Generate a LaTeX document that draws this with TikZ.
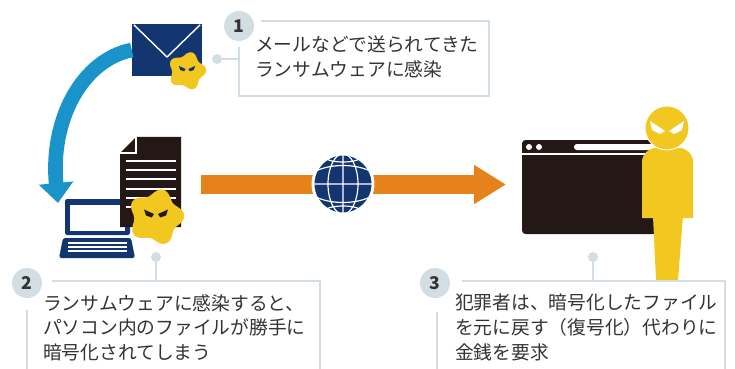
\documentclass[tikz,border=0pt]{standalone}
\usepackage{fontspec}
\newfontfamily\jp{Noto Sans CJK JP}
\usetikzlibrary{arrows.meta,calc}

\definecolor{navy}{HTML}{143670}
\definecolor{skyblue}{HTML}{1A93CA}
\definecolor{flow}{HTML}{E6821A}
\definecolor{ink}{HTML}{231815}
\definecolor{yel}{HTML}{F2C71F}
\definecolor{framec}{HTML}{D3DDE4}
\definecolor{txt}{HTML}{333333}

% yellow virus blob, #1 = eye colour
\tikzset{
  pics/blob/.style={code={
    \fill[yel] plot[smooth cycle, domain=0:355, samples=72]
      (\x:{1+0.13*cos(5*\x+15)});
    \fill[#1] (-0.48,-0.3) -- (-0.08,-0.12) -- (-0.17,0.02) -- (-0.4,-0.06) -- cycle;
    \fill[#1] (0.48,-0.3) -- (0.08,-0.12) -- (0.17,0.02) -- (0.4,-0.06) -- cycle;
  }}
}

\begin{document}
\begin{tikzpicture}[
  x=0.03cm, y=-0.03cm,
  num/.style={circle, fill=framec, minimum size=0.9cm, inner sep=0,
              font=\jp\bfseries\fontsize{15}{15}\selectfont, text=txt},
  note/.style={anchor=north west, align=left, inner sep=0, text=txt,
               font=\jp\fontsize{16}{21.2}\selectfont},
  pin/.style={circle, fill=framec, minimum size=0.3cm, inner sep=0},
  frameline/.style={draw=framec, line width=2.5pt}
]
  \useasboundingbox (0,0) rectangle (735,369);

  % mail
  \node[fill=navy, minimum width=2.1cm, minimum height=1.56cm, inner sep=0] (mail) at (167,50) {};
  \draw[white, line width=1.2pt] ($(mail.north west)+(2,1)$) -- (167,57) -- ($(mail.north east)+(-2,1)$);
  \pic[scale=17] (blobA) at (187,71) {blob=navy};

  % infection path
  \coordinate (hit) at (58,203);
  \draw[skyblue, line width=12.5pt, -{Triangle[length=0.6cm, width=1cm]}]
    (mail.west) .. controls (82,60) and (50,120) .. (hit);

  % laptop
  \fill[navy, rounded corners=2pt] (65,199) rectangle (130,235);
  \fill[white] (70,205) rectangle (125,231);
  \fill[navy, rounded corners=2pt] (63,238) -- (131,238) -- (135,258) -- (59,258) -- cycle;
  \foreach \yy in {243,247,251}
    \draw[white, line width=0.9pt] (68,\yy) -- (127,\yy);
  \node[inner sep=0, minimum width=2.1cm, minimum height=1.8cm] (pc) at (97,228) {};

  % encrypted document
  \fill[ink] (136,137) -- (181,137) -- (181,227) -- (120,227) -- (120,153) -- cycle;
  \draw[white, line width=1pt] (120,153) -- (136,153) -- (136,137);
  \foreach \yy in {161,170,179,189,198,207}
    \draw[white, line width=1.2pt] (126,\yy) -- (176,\yy);
  \pic[scale=25] (blobB) at (156,217) {blob=ink};

  % transfer over the internet
  \coordinate (src) at (201,184.5);
  \coordinate (dst) at (506,184.5);
  \draw[flow, line width=16pt, -{Triangle[length=0.96cm, width=1.11cm]}] (src) -- (dst);
  \node[circle, fill=navy, draw=white, line width=2.5pt, minimum size=1.8cm, inner sep=0] (net) at (343,184) {};
  \begin{scope}
    \clip (343,184) circle (30);
    \draw[white, line width=1pt] (343,154) -- (343,214)
      (343,184) ellipse (15 and 30)
      (313,184) -- (373,184)
      (318,170) .. controls (333,164) and (353,164) .. (368,170)
      (318,198) .. controls (333,204) and (353,204) .. (368,198)
      (343,157) ellipse (18 and 5)
      (343,211) ellipse (18 and 5);
  \end{scope}

  % attacker's screen
  \fill[ink, rounded corners=3pt] (522,140) rectangle (660,234);
  \draw[white, line width=1pt] (522,154) -- (660,154);
  \fill[white] (529,147) circle (3) (539,147) circle (3);
  \fill[white, rounded corners=2.5pt] (574,144) rectangle (658,150);
  \node[inner sep=0, minimum width=4.1cm, minimum height=2.8cm] (web) at (591,187) {};

  % attacker
  \fill[yel] (653,216) -- (683,216) -- (678,280) -- (656,280) -- cycle;
  \fill[yel] (642,218) [rounded corners=12pt] -- (642,148) -- (693,148) [sharp corners] -- (693,218) -- cycle;
  \fill[yel, draw=white, line width=0.8pt] (667,128) circle (22);
  \fill[white] (650,121) -- (665,131) -- (660,134) -- (652,130) -- cycle;
  \fill[white] (684,121) -- (669,131) -- (674,134) -- (682,130) -- cycle;

  % callout 1
  \node[num] (n1) at (239,26) {1};
  \draw[frameline] (261,21) -- (489,21) -- (489,96) -- (239,96) -- (239,47);
  \node[pin] (p1) at (217,59) {};
  \coordinate (f1) at (239,59);
  \draw[frameline] (p1) -- (f1);
  \node[note] (t1) at (255,36) {メールなどで送られてきた\\ランサムウェアに感染};

  % callout 2
  \node[num] (n2) at (27,283) {2};
  \draw[frameline] (52,281) -- (320,281) -- (320,372);
  \draw[frameline] (27,310) -- (27,372);
  \node[pin] (p2) at (156,257) {};
  \coordinate (f2) at (156,281);
  \draw[frameline] (p2) -- (f2);
  \node[note] (t2) at (43,294) {ランサムウェアに感染すると、\\パソコン内のファイルが勝手に\\暗号化されてしまう};

  % callout 3
  \node[num] (n3) at (435,283) {3};
  \draw[frameline] (462,281) -- (725,281) -- (725,372);
  \draw[frameline] (437,312) -- (437,372);
  \node[pin] (p3) at (593,257) {};
  \coordinate (f3) at (593,281);
  \draw[frameline] (p3) -- (f3);
  \node[note] (t3) at (455,294) {犯罪者は、暗号化したファイル\\を元に戻す（復号化）代わりに\\金銭を要求};
\end{tikzpicture}
\end{document}
